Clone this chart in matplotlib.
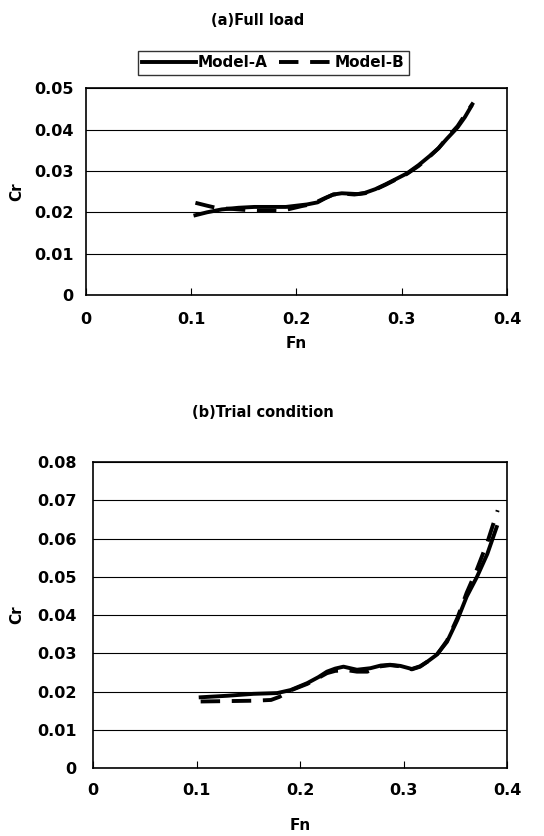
import numpy as np
import matplotlib
matplotlib.use("Agg")
import matplotlib.pyplot as plt
from matplotlib.ticker import MultipleLocator, FormatStrFormatter

plt.rcParams.update({
    "font.family": ["DejaVu Sans"],
    "font.weight": "bold",
    "font.size": 11,
})

# (a) Full load
fn_a_A = [0.104, 0.115, 0.129, 0.145, 0.160, 0.175, 0.190, 0.200, 0.210, 0.220, 0.228,
          0.235, 0.243, 0.251, 0.258, 0.265, 0.275, 0.285, 0.295, 0.305, 0.316, 0.327,
          0.335, 0.343, 0.353, 0.360, 0.366]
cr_a_A = [0.0193, 0.0200, 0.0207, 0.0211, 0.0213, 0.0213, 0.0213, 0.0216, 0.0219, 0.0224, 0.0235,
          0.0243, 0.0246, 0.0245, 0.0244, 0.0247, 0.0256, 0.0268, 0.0281, 0.0294, 0.0314, 0.0337,
          0.0355, 0.0378, 0.0405, 0.0430, 0.0456]
fn_a_B = [0.104, 0.115, 0.125, 0.140, 0.155, 0.165, 0.175, 0.185, 0.195, 0.205, 0.215,
          0.225, 0.235, 0.245, 0.255, 0.265, 0.275, 0.285, 0.295, 0.305, 0.316, 0.327,
          0.335, 0.343, 0.353, 0.360, 0.368]
cr_a_B = [0.0223, 0.0216, 0.0210, 0.0208, 0.0205, 0.0204, 0.0204, 0.0203, 0.0209, 0.0215, 0.0220,
          0.0232, 0.0243, 0.0245, 0.0243, 0.0246, 0.0255, 0.0267, 0.0280, 0.0293, 0.0312, 0.0336,
          0.0355, 0.0380, 0.0408, 0.0435, 0.0465]

# (b) Trial condition
fn_b_A = [0.104, 0.130, 0.155, 0.178, 0.191, 0.207, 0.218, 0.226, 0.234, 0.242, 0.255, 0.268,
          0.278, 0.287, 0.297, 0.308, 0.316, 0.323, 0.332, 0.342, 0.352, 0.361, 0.371, 0.381, 0.390]
cr_b_A = [0.0185, 0.0189, 0.0194, 0.0196, 0.0204, 0.0222, 0.0238, 0.0252, 0.0260, 0.0265, 0.0257, 0.0261,
          0.0268, 0.0270, 0.0267, 0.0259, 0.0266, 0.0278, 0.0296, 0.0330, 0.0387, 0.0448, 0.0500, 0.0560, 0.0630]
fn_b_B = [0.104, 0.130, 0.155, 0.172, 0.180, 0.191, 0.207, 0.218, 0.226, 0.234, 0.245, 0.255, 0.265,
          0.278, 0.287, 0.297, 0.308, 0.316, 0.323, 0.332, 0.342, 0.352, 0.361, 0.371, 0.381, 0.391]
cr_b_B = [0.0174, 0.0175, 0.0176, 0.0178, 0.0186, 0.0203, 0.0220, 0.0236, 0.0248, 0.0254, 0.0256, 0.0252, 0.0252,
          0.0266, 0.0269, 0.0266, 0.0258, 0.0265, 0.0278, 0.0295, 0.0333, 0.0392, 0.0458, 0.0520, 0.0590, 0.0674]


def style_axes(ax, ymax, ystep, xpad, ypad):
    ax.set_xlim(0, 0.4)
    ax.set_ylim(0, ymax)
    ax.xaxis.set_major_locator(MultipleLocator(0.1))
    ax.yaxis.set_major_locator(MultipleLocator(ystep))
    ax.xaxis.set_major_formatter(FormatStrFormatter("%g"))
    ax.yaxis.set_major_formatter(FormatStrFormatter("%g"))
    ax.grid(True, axis="y", color="black", lw=0.8)
    ax.tick_params(axis="x", direction="in", length=5, pad=xpad, labelsize=11.5)
    ax.tick_params(axis="y", length=0, pad=ypad, labelsize=11.5)
    for s in ax.spines.values():
        s.set_linewidth(1.2)
        s.set_color("black")


fig = plt.figure(figsize=(5.44, 8.36), dpi=100)

ax1 = fig.add_axes([0.158, 0.647, 0.774, 0.2476])
ax1.plot(fn_a_A, cr_a_A, color="black", lw=2.8, label="Model-A")
ax1.plot(fn_a_B, cr_a_B, color="black", lw=2.8, ls=(0, (5, 3)), label="Model-B")
style_axes(ax1, 0.05, 0.01, 12, 9)
ax1.set_xlabel("Fn", fontweight="bold", labelpad=7)
ax1.set_ylabel("Cr", fontweight="bold", labelpad=7)
fig.text(0.474, 0.976, "(a)Full load", ha="center", va="center", fontweight="bold", fontsize=10.5)
fig.legend(loc="center", bbox_to_anchor=(0.502, 0.925), ncol=2, frameon=True, fancybox=False,
           edgecolor="black", handlelength=3.5, handletextpad=0.1, columnspacing=0.8,
           borderpad=0.3, prop={"weight": "bold", "size": 11})

ax2 = fig.add_axes([0.171, 0.0813, 0.761, 0.366])
ax2.plot(fn_b_A, cr_b_A, color="black", lw=2.8)
ax2.plot(fn_b_B, cr_b_B, color="black", lw=2.8, ls=(0, (5, 3)))
style_axes(ax2, 0.08, 0.01, 11, 12)
ax2.set_xlabel("Fn", fontweight="bold", labelpad=14)
ax2.set_ylabel("Cr", fontweight="bold", labelpad=9)
fig.text(0.483, 0.507, "(b)Trial condition", ha="center", va="center", fontweight="bold", fontsize=10.5)

fig.savefig("out.png", dpi=100)
